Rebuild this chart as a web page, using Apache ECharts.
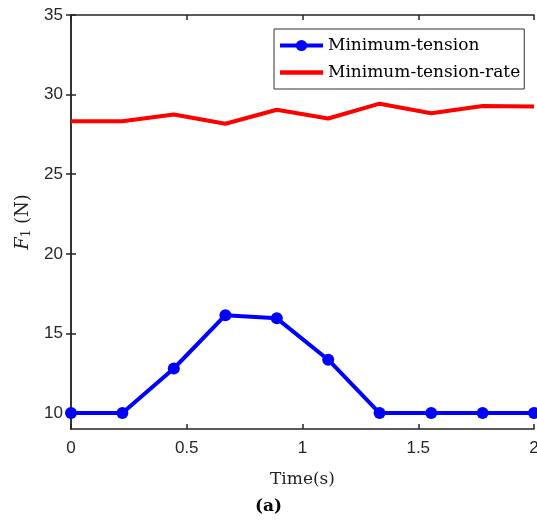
<!DOCTYPE html>
<html>
<head>
<meta charset="utf-8">
<script src="https://cdn.jsdelivr.net/npm/echarts@6/dist/echarts.min.js"></script>
<style>html,body{margin:0;padding:0;background:#fff}#c{width:537px;height:529px}</style>
</head>
<body>
<div id="c"></div>
<script>
const timeValues = [0, 0.222, 0.444, 0.667, 0.889, 1.111, 1.333, 1.556, 1.778, 2];
const minTension = [10, 10, 12.8, 16.15, 15.95, 13.35, 10, 10, 10, 10];
const minTensionRate = [28.33, 28.33, 28.75, 28.17, 29.05, 28.5, 29.43, 28.83, 29.28, 29.25];
const seriesNames = ['Minimum-tension', 'Minimum-tension-rate'];
const xTicks = { min: 0, max: 2, interval: 0.5 };
const yTicks = { min: 9, max: 35, interval: 5 };
const yTickValues = [10, 15, 20, 25, 30, 35];

const toPairs = ys => timeValues.map((t, i) => [t, ys[i]]);
const axisColor = '#262626';
const chart = echarts.init(document.getElementById('c'), null, { renderer: 'canvas' });
const baseAxisLine = { show: true, lineStyle: { color: axisColor, width: 1.5 } };
const tickStyle = { show: true, inside: true, length: 5, lineStyle: { color: axisColor, width: 1.5 } };
chart.setOption({
  animation: false,
  backgroundColor: '#fff',
  grid: { left: 71, right: 3, top: 15, bottom: 100, containLabel: false, outerBoundsMode: 'none' },
  title: {
    text: '(a)', left: 'center', top: 493,
    textStyle: { fontFamily: 'DejaVu Serif', fontWeight: 'bold', fontSize: 17, color: '#000' }
  },
  legend: {
    orient: 'vertical', left: 274, top: 29,
    padding: [8, 4, 8, 4], itemGap: 10, itemWidth: 43, itemHeight: 14,
    borderColor: '#333', borderWidth: 1, backgroundColor: '#fff',
    textStyle: { fontFamily: 'DejaVu Serif', fontSize: 17, color: '#000' },
    data: [
      { name: seriesNames[0], lineStyle: { width: 4 } },
      { name: seriesNames[1], icon: 'path://M0 0H100V10H0Z' }
    ]
  },
  xAxis: [{
    type: 'value', min: xTicks.min, max: xTicks.max, interval: xTicks.interval,
    name: 'Time(s)', nameLocation: 'middle', nameGap: 42,
    nameTextStyle: { fontFamily: 'DejaVu Serif', fontSize: 17, color: '#222' },
    axisLine: baseAxisLine, axisTick: tickStyle, splitLine: { show: false },
    axisLabel: { fontFamily: 'Liberation Sans', fontSize: 17, color: axisColor, margin: 11 }
  }, {
    type: 'value', position: 'top', min: xTicks.min, max: xTicks.max, interval: xTicks.interval,
    axisLine: baseAxisLine, axisTick: tickStyle, splitLine: { show: false }, axisLabel: { show: false }
  }],
  yAxis: [{
    type: 'value', min: yTicks.min, max: yTicks.max, interval: yTicks.interval,
    axisLabel: {
      fontFamily: 'Liberation Sans', fontSize: 17, color: axisColor, margin: 8,
      customValues: yTickValues
    },
    axisTick: Object.assign({ customValues: yTickValues }, tickStyle),
    name: '{i|F}{s|1}{n| (N)}', nameLocation: 'middle', nameGap: 28, nameRotate: 90,
    nameTextStyle: {
      rich: {
        i: { fontFamily: 'DejaVu Serif', fontStyle: 'italic', fontSize: 18, color: '#222' },
        s: { fontFamily: 'DejaVu Serif', fontSize: 12, color: '#222', verticalAlign: 'bottom', padding: [8, 0, 0, 0] },
        n: { fontFamily: 'DejaVu Serif', fontSize: 18, color: '#222' }
      }
    },
    axisLine: baseAxisLine, splitLine: { show: false }
  }, {
    type: 'value', position: 'right', min: yTicks.min, max: yTicks.max, interval: yTicks.interval,
    axisLine: baseAxisLine,
    axisTick: Object.assign({ customValues: yTickValues }, tickStyle),
    splitLine: { show: false }, axisLabel: { show: false }
  }],
  series: [{
    name: seriesNames[0], type: 'line', data: toPairs(minTension),
    symbol: 'circle', symbolSize: 12, showAllSymbol: true,
    lineStyle: { color: '#0000ff', width: 4 }, itemStyle: { color: '#0000ff' }, z: 3
  }, {
    name: seriesNames[1], type: 'line', data: toPairs(minTensionRate),
    symbol: 'none',
    lineStyle: { color: '#ff0000', width: 4 }, itemStyle: { color: '#ff0000' }
  }]
});
</script>
</body>
</html>
